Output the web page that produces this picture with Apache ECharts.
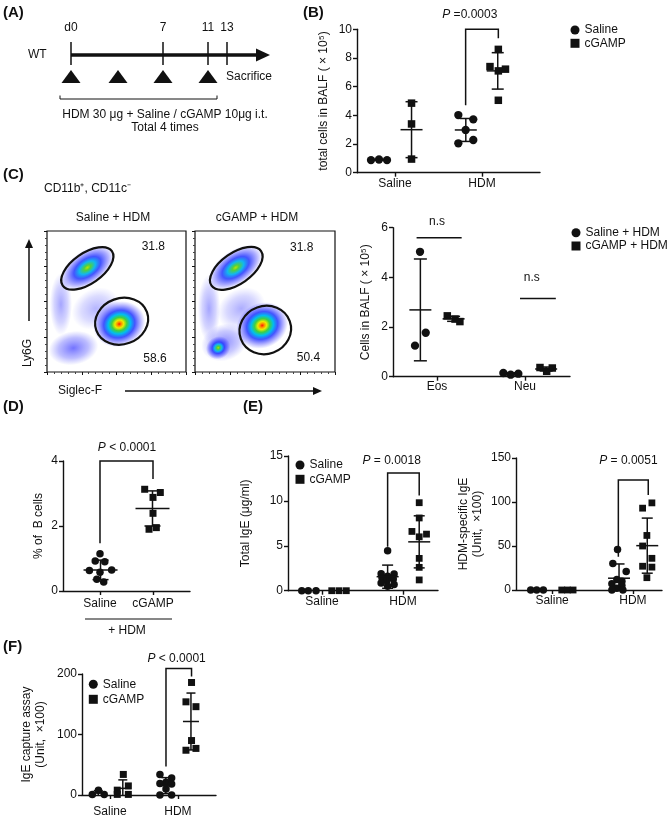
<!DOCTYPE html>
<html><head><meta charset="utf-8">
<script src="https://cdn.jsdelivr.net/npm/echarts@6/dist/echarts.min.js"></script>
<style>html,body{margin:0;padding:0;background:#fff}#c{width:669px;height:819px}</style>
</head><body><div id="c"></div>
<script>
const FONT = "'Liberation Sans', Arial, sans-serif";
const INK = '#111111';

// ---------- Panel B : total cells in BALF ----------
const B_cats = ['Saline', 'HDM'];
const B_salVals = [[0.88, 0.92, 0.88], [4.02, 3.72, 2.98, 2.05, 2.28]];
const B_salJit  = [[-0.276, -0.184, -0.092], [-0.272, -0.1, -0.188, -0.272, -0.1]];
const B_cgVals  = [[4.85, 3.4, 0.95], [8.6, 7.4, 7.22, 7.1, 5.05]];
const B_cgJit   = [[0.19, 0.19, 0.19], [0.188, 0.092, 0.27, 0.188, 0.188]];
const B_salMean = [0.9, 2.98], B_salSD = [0.03, 0.8];
const B_cgMean  = [3.0, 7.1],  B_cgSD  = [1.95, 1.27];
const B_bracket = [1.812, 4.7, 2.188, 9.37, 10];
const B_pText   = [1.86, 11.0, 'P =0.0003'];

// ---------- Panel C : Eos / Neu ----------
const C_cats = ['Eos', 'Neu'];
const C_salVals = [[5.03, 1.77, 1.25], [0.15, 0.08, 0.12]];
const C_salJit  = [[-0.193, -0.128, -0.25], [-0.246, -0.163, -0.076]];
const C_cgVals  = [[2.45, 2.32, 2.22], [0.37, 0.22, 0.35]];
const C_cgJit   = [[0.117, 0.205, 0.26], [0.17, 0.246, 0.31]];
const C_salMean = [2.69, 0.12], C_salSD = [2.05, 0.04];
const C_cgMean  = [2.33, 0.31], C_cgSD  = [0.1, 0.08];
const C_nsLines = [[0.768, 1.28, 5.6], [1.943, 2.35, 3.15]];
const C_nsText  = [[1.0, 6.24, 'n.s'], [2.076, 4.0, 'n.s']];

// ---------- Panel C : flow plots (cluster centre x, y, radius x, radius y, tilt deg, density peak) ----------
const F1_clusters = [[10, 48, 8, 22, 0, 0.22], [19, 17, 18, 12, 10, 0.34], [35, 45, 18, 14, 30, 0.18],
                     [29, 74, 22, 12, 35, 0.75], [52, 34, 19, 16, 20, 1.0]];
const F2_clusters = [[10, 45, 8, 24, 0, 0.22], [21, 21, 17, 13, 20, 0.28], [33, 45, 18, 14, 30, 0.2],
                     [16.6, 17.2, 9, 8, 30, 0.7], [29, 74, 22, 12, 35, 0.7], [48, 33, 19, 16, 25, 0.95]];
const F1_gates = [[29, 73.5, 21.6, 10.8, 35], [53.7, 36, 19.4, 16.3, 20]];
const F2_gates = [[29.5, 73.5, 21.6, 11, 35], [50.2, 29.8, 18.6, 17, 20]];
const F1_pct = [[76.5, 88.9, '31.8'], [77.7, 9.7, '58.6']];
const F2_pct = [[76.2, 88.2, '31.8'], [81, 10.1, '50.4']];

// ---------- Panel D : % of B cells ----------
const D_cats = ['Saline', 'cGAMP'];
const D_vals = [[1.15, 0.92, 0.9, 0.63, 0.58, 0.65, 0.36, 0.28], [3.13, 3.03, 2.88, 2.39, 1.9, 1.95]];
const D_jit  = [[0, -0.09, 0.09, -0.2, 0, 0.22, -0.06, 0.07], [-0.157, 0.138, 0, 0, -0.075, 0.063]];
const D_mean = [0.65, 2.54], D_sd = [0.3, 0.54];
const D_bracket = [1, 1.47, 2, 3.45, 4];
const D_pText = [1.51, 4.4, 'P < 0.0001'];

// ---------- Panel E left : Total IgE ----------
const E1_cats = ['Saline', 'HDM'];
const E1_salVals = [[0, 0, 0], [4.45, 1.9, 1.85, 1.6, 1.45, 1.3, 1.1, 0.85, 0.7, 0.5]];
const E1_salJit  = [[-0.25, -0.17, -0.074], [-0.19, -0.27, -0.11, -0.19, -0.26, -0.12, -0.2, -0.27, -0.11, -0.19]];
const E1_cgVals  = [[0, 0, 0], [9.8, 8.1, 6.6, 6.3, 6.0, 3.6, 2.6, 1.2]];
const E1_cgJit   = [[0.12, 0.21, 0.3], [0.2, 0.2, 0.11, 0.29, 0.2, 0.2, 0.2, 0.2]];
const E1_salMean = [0, 1.56], E1_salSD = [0, 1.29];
const E1_cgMean  = [0, 5.44], E1_cgSD  = [0, 2.9];
const E1_bracket = [1.81, 4.9, 2.2, 10.6, 13.1];
const E1_pText = [1.86, 14.5, 'P = 0.0018'];

// ---------- Panel E right : HDM-specific IgE ----------
const E2_cats = ['Saline', 'HDM'];
const E2_salVals = [[0, 0, 0], [46, 30, 21, 12, 10, 7, 5, 2, 0, 0]];
const E2_salJit  = [[-0.264, -0.19, -0.108], [-0.19, -0.248, -0.083, -0.198, -0.136, -0.26, -0.136, -0.198, -0.26, -0.124]];
const E2_cgVals  = [[0, 0, 0], [99, 93, 62, 50, 36, 27, 26, 14]];
const E2_cgJit   = [[0.12, 0.19, 0.26], [0.235, 0.12, 0.173, 0.12, 0.235, 0.12, 0.235, 0.173]];
const E2_salMean = [0, 13.4], E2_salSD = [0, 16.2];
const E2_cgMean  = [0, 50.4], E2_cgSD  = [0, 31.3];
const E2_bracket = [1.82, 37.7, 2.19, 108, 125];
const E2_pText = [1.945, 147, 'P = 0.0051'];

// ---------- Panel F : IgE capture assay ----------
const F_cats = ['Saline', 'HDM'];
const F_salVals = [[1, 8, 1], [34, 28, 21, 19, 18, 10, 0, 0]];
const F_salJit  = [[-0.26, -0.17, -0.085], [-0.265, -0.093, -0.176, -0.265, -0.093, -0.176, -0.265, -0.093]];
const F_cgVals  = [[34, 15, 8, 1, 1], [186, 154, 146, 90, 74, 77]];
const F_cgJit   = [[0.196, 0.27, 0.107, 0.107, 0.27], [0.2, 0.118, 0.265, 0.2, 0.118, 0.265]];
const F_salMean = [3.3, 15.5], F_salSD = [4, 13.2];
const F_cgMean  = [11, 121.5], F_cgSD  = [14, 47];
const F_bracket = [1.824, 47, 2.2, 196, 209];
const F_pText = [1.98, 226, 'P < 0.0001'];

// =====================================================================
const grids = [], xAxes = [], yAxes = [], series = [];

function pts(vals, jit) {
  const out = [];
  vals.forEach((arr, g) => arr.forEach((v, i) => out.push([g + 1 + jit[g][i], v])));
  return out;
}
function center(j) { return (Math.min(...j) + Math.max(...j)) / 2; }

function errSeries(k, jit, mean, sd, hw, cw) {
  const data = mean.map((m, i) => [1 + i + center(jit[i]), m, sd[i]]);
  return {
    type: 'custom', xAxisIndex: k, yAxisIndex: k, z: 4, silent: true, data,
    renderItem: (p, api) => {
      const x = api.value(0), m = api.value(1), s = api.value(2);
      if (m === 0 && s === 0) return null;
      const ymin = yAxes[k].min;
      const pm = api.coord([x, m]), pt = api.coord([x, m + s]);
      const low = m - s < ymin;
      const pb = api.coord([x, Math.max(m - s, ymin)]);
      const ls = { stroke: INK, lineWidth: 1.5 };
      const ch = [
        { type: 'line', shape: { x1: pm[0], y1: pt[1], x2: pm[0], y2: pb[1] }, style: ls },
        { type: 'line', shape: { x1: pm[0] - hw, y1: pm[1], x2: pm[0] + hw, y2: pm[1] }, style: ls },
        { type: 'line', shape: { x1: pm[0] - cw, y1: pt[1], x2: pm[0] + cw, y2: pt[1] }, style: ls }
      ];
      if (!low) ch.push({ type: 'line', shape: { x1: pm[0] - cw, y1: pb[1], x2: pm[0] + cw, y2: pb[1] }, style: ls });
      return { type: 'group', children: ch };
    }
  };
}

function bracketSeries(k, b) {
  return {
    type: 'custom', xAxisIndex: k, yAxisIndex: k, z: 2, silent: true, data: [b],
    renderItem: (p, api) => {
      const a = api.coord([api.value(0), api.value(1)]);
      const t1 = api.coord([api.value(0), api.value(4)]);
      const t2 = api.coord([api.value(2), api.value(4)]);
      const e = api.coord([api.value(2), api.value(3)]);
      return { type: 'polyline', shape: { points: [a, t1, t2, e] }, style: { stroke: INK, lineWidth: 1.5, fill: null } };
    }
  };
}

function hLineSeries(k, lines) {
  return {
    type: 'custom', xAxisIndex: k, yAxisIndex: k, z: 2, silent: true, data: lines,
    renderItem: (p, api) => {
      const a = api.coord([api.value(0), api.value(2)]), b = api.coord([api.value(1), api.value(2)]);
      return { type: 'line', shape: { x1: a[0], y1: a[1], x2: b[0], y2: b[1] }, style: { stroke: INK, lineWidth: 1.5 } };
    }
  };
}

function textSeries(k, items, fs) {
  return {
    type: 'custom', xAxisIndex: k, yAxisIndex: k, z: 6, silent: true,
    data: items.map((it, i) => [it[0], it[1], i]),
    renderItem: (p, api) => {
      const it = items[api.value(2)];
      const c = api.coord([api.value(0), api.value(1)]);
      let txt = it[2];
      if (txt.charAt(0) === 'P') txt = '{i|P}' + txt.slice(1);
      return {
        type: 'text', x: c[0], y: c[1],
        style: {
          text: txt, fontSize: fs || 12, fontFamily: FONT, fill: INK, align: 'center', verticalAlign: 'middle',
          rich: { i: { fontStyle: 'italic', fontSize: fs || 12, fontFamily: FONT, fill: INK } }
        }
      };
    }
  };
}

function addPanel(c) {
  const k = grids.length;
  grids.push({ left: c.rect[0], top: c.rect[1], width: c.rect[2], height: c.rect[3] });
  xAxes.push({
    type: 'value', gridIndex: k, min: c.xmin, max: c.xmax,
    axisLine: { show: true, onZero: false, lineStyle: { color: INK, width: 1.4 } },
    axisTick: { show: true, customValues: [1, 2], length: 4, lineStyle: { color: INK, width: 1.4 } },
    axisLabel: { show: true, customValues: [1, 2], formatter: v => c.cats[Math.round(v) - 1],
      fontSize: 12, color: INK, margin: c.xm, fontFamily: FONT },
    splitLine: { show: false }
  });
  yAxes.push({
    type: 'value', gridIndex: k, min: c.ymin, max: c.ymax, interval: c.yint,
    name: c.yname, nameLocation: 'middle', nameRotate: 90, nameGap: c.ygap,
    nameTextStyle: { fontSize: 12, color: INK, fontFamily: FONT, lineHeight: 14 },
    axisLine: { show: true, lineStyle: { color: INK, width: 1.4 } },
    axisTick: { show: true, length: 4, lineStyle: { color: INK, width: 1.4 } },
    axisLabel: { fontSize: 12, color: INK, margin: 5, fontFamily: FONT },
    splitLine: { show: false }
  });
  if (c.bracket) series.push(bracketSeries(k, c.bracket));
  c.groups.forEach((g, i) => {
    series.push({
      type: 'scatter', name: g.name, xAxisIndex: k, yAxisIndex: k, clip: false,
      symbol: i ? 'rect' : 'circle', symbolSize: c.sym[i], itemStyle: { color: INK, opacity: 1 }, z: 3,
      silent: true, data: pts(g.vals, g.jit)
    });
    series.push(errSeries(k, g.jit, g.mean, g.sd, c.hw, c.cw));
  });
  if (c.p) series.push(textSeries(k, [c.p]));
  return k;
}

function densityStops(p) {
  if (p >= 0.9) return [[0, '#ff1a00'], [0.08, '#ff8c00'], [0.17, '#ecec00'], [0.29, '#40d040'], [0.43, '#00bef0'],
                        [0.6, 'rgba(35,55,255,0.85)'], [0.8, 'rgba(60,60,255,0.42)'], [1, 'rgba(80,80,255,0)']];
  if (p >= 0.6) return [[0, '#b8e400'], [0.12, '#50d040'], [0.3, '#10b8f0'], [0.5, 'rgba(35,55,255,0.85)'],
                        [0.78, 'rgba(60,60,255,0.4)'], [1, 'rgba(80,80,255,0)']];
  return [[0, 'rgba(40,40,255,' + (p * 1.9).toFixed(2) + ')'], [0.6, 'rgba(60,60,255,' + (p * 1.0).toFixed(2) + ')'], [1, 'rgba(80,80,255,0)']];
}

function addFlow(rect, clusters, gates, pct) {
  const k = grids.length;
  grids.push({ left: rect[0], top: rect[1], width: rect[2], height: rect[3], show: true, borderColor: INK, borderWidth: 1.2, backgroundColor: '#fff' });
  const ax = () => ({
    type: 'value', gridIndex: k, min: 0, max: 100, interval: 25,
    axisLine: { show: false }, axisLabel: { show: false }, splitLine: { show: false },
    axisTick: { show: true, length: 3, lineStyle: { color: INK } },
    minorTick: { show: true, splitNumber: 5, length: 2, lineStyle: { color: '#444' } }
  });
  xAxes.push(ax()); yAxes.push(ax());
  series.push({
    type: 'custom', xAxisIndex: k, yAxisIndex: k, z: 2, silent: true, clip: true,
    data: clusters.map((c, i) => [c[0], c[1], c[2], c[3], c[4], i]),
    renderItem: (p, api) => {
      const cl = clusters[api.value(5)];
      const c = api.coord([api.value(0), api.value(1)]);
      const s = api.size([api.value(2), api.value(3)]);
      return {
        type: 'circle', x: c[0], y: c[1], rotation: api.value(4) * Math.PI / 180,
        scaleX: s[0] / s[1], scaleY: 1, shape: { cx: 0, cy: 0, r: s[1] },
        style: { fill: { type: 'radial', x: 0.5, y: 0.5, r: 0.5, colorStops: densityStops(cl[5]).map(d => ({ offset: d[0], color: d[1] })) } }
      };
    }
  });
  series.push({
    type: 'custom', xAxisIndex: k, yAxisIndex: k, z: 4, silent: true, data: gates,
    renderItem: (p, api) => {
      const c = api.coord([api.value(0), api.value(1)]);
      const s = api.size([api.value(2), api.value(3)]);
      return {
        type: 'ellipse', x: c[0], y: c[1], rotation: api.value(4) * Math.PI / 180,
        shape: { cx: 0, cy: 0, rx: s[0], ry: s[1] }, style: { stroke: '#111', lineWidth: 2.2, fill: null }
      };
    }
  });
  series.push(textSeries(k, pct, 12));
  return k;
}

// ---- build panels ----
addPanel({ rect: [357, 29.3, 183, 143.4], xmin: 0.563, xmax: 2.667, cats: B_cats, xm: 5,
  ymin: 0, ymax: 10, yint: 2, yname: 'total cells in BALF ( × 10⁵)', ygap: 26,
  groups: [{ name: 'Saline', vals: B_salVals, jit: B_salJit, mean: B_salMean, sd: B_salSD },
           { name: 'cGAMP', vals: B_cgVals, jit: B_cgJit, mean: B_cgMean, sd: B_cgSD }],
  sym: [8.3, 7.5], hw: 11, cw: 6, bracket: B_bracket, p: B_pText });

const kC = addPanel({ rect: [393, 227.7, 177, 149], xmin: 0.5, xmax: 2.511, cats: C_cats, xm: 4,
  ymin: 0, ymax: 6, yint: 2, yname: 'Cells in BALF ( × 10⁵)', ygap: 20,
  groups: [{ name: 'Saline + HDM', vals: C_salVals, jit: C_salJit, mean: C_salMean, sd: C_salSD },
           { name: 'cGAMP + HDM', vals: C_cgVals, jit: C_cgJit, mean: C_cgMean, sd: C_cgSD }],
  sym: [8.3, 7.5], hw: 11, cw: 6.5 });
series.push(hLineSeries(kC, C_nsLines));
series.push(textSeries(kC, C_nsText));

addPanel({ rect: [63, 461, 127, 130], xmin: 0.302, xmax: 2.698, cats: D_cats, xm: 7,
  ymin: 0, ymax: 4, yint: 2, yname: '% of  B cells', ygap: 17,
  groups: [{ name: 'Saline', vals: [D_vals[0], []], jit: [D_jit[0], [0]], mean: [D_mean[0], 0], sd: [D_sd[0], 0] },
           { name: 'cGAMP', vals: [[], D_vals[1]], jit: [[0], D_jit[1]], mean: [0, D_mean[1]], sd: [0, D_sd[1]] }],
  sym: [7.5, 7], hw: 17, cw: 8, bracket: D_bracket, p: D_pText });

addPanel({ rect: [288, 456, 150, 134.7], xmin: 0.58, xmax: 2.432, cats: E1_cats, xm: 5,
  ymin: 0, ymax: 15, yint: 5, yname: 'Total IgE (μg/ml)', ygap: 35,
  groups: [{ name: 'Saline', vals: E1_salVals, jit: E1_salJit, mean: E1_salMean, sd: E1_salSD },
           { name: 'cGAMP', vals: E1_cgVals, jit: E1_cgJit, mean: E1_cgMean, sd: E1_cgSD }],
  sym: [7.5, 6.8], hw: 11, cw: 5.5, bracket: E1_bracket, p: E1_pText });

addPanel({ rect: [516, 458, 146, 132], xmin: 0.554, xmax: 2.36, cats: E2_cats, xm: 5,
  ymin: 0, ymax: 150, yint: 50, yname: 'HDM-specific IgE\n(Unit,  ×100)', ygap: 31,
  groups: [{ name: 'Saline', vals: E2_salVals, jit: E2_salJit, mean: E2_salMean, sd: E2_salSD },
           { name: 'cGAMP', vals: E2_cgVals, jit: E2_cgJit, mean: E2_cgMean, sd: E2_cgSD }],
  sym: [7.5, 6.8], hw: 11, cw: 5.5, bracket: E2_bracket, p: E2_pText });

addPanel({ rect: [82, 674, 134, 121], xmin: 0.588, xmax: 2.56, cats: F_cats, xm: 11,
  ymin: 0, ymax: 200, yint: 100, yname: 'IgE capture assay\n(Unit,  ×100)', ygap: 34,
  groups: [{ name: 'Saline', vals: F_salVals, jit: F_salJit, mean: F_salMean, sd: F_salSD },
           { name: 'cGAMP', vals: F_cgVals, jit: F_cgJit, mean: F_cgMean, sd: F_cgSD }],
  sym: [7.5, 7], hw: 8, cw: 4.5, bracket: F_bracket, p: F_pText });

addFlow([47, 231, 139, 141], F1_clusters, F1_gates, F1_pct);
addFlow([195, 231, 140, 141], F2_clusters, F2_gates, F2_pct);

// ---- static annotation graphics ----
const graphics = [];
function T(x, y, text, o) {
  graphics.push({ type: 'text', x, y, silent: true, z: 10,
    style: Object.assign({ text, fontSize: 12, fontFamily: FONT, fill: INK, align: 'left', verticalAlign: 'middle',
      textAlign: (o && o.align) || 'left', textVerticalAlign: 'middle' }, o || {}) });
}
function L(x1, y1, x2, y2, w) { graphics.push({ type: 'line', silent: true, shape: { x1, y1, x2, y2 }, style: { stroke: INK, lineWidth: w || 1.3 } }); }
function G(points) { graphics.push({ type: 'polygon', silent: true, shape: { points }, style: { fill: INK } }); }

const bold = { fontSize: 15, fontWeight: 'bold' };
T(3, 13, '(A)', bold); T(303, 13, '(B)', bold); T(3, 175, '(C)', bold);
T(3, 407, '(D)', bold); T(243, 407, '(E)', bold); T(3, 647, '(F)', bold);

// Panel A schematic
T(28, 55, 'WT');
L(71, 55, 259, 55, 3.5); G([[256, 48.5], [270, 55], [256, 61.5]]);
[[71, 'd0'], [163, '7'], [208, '11'], [227, '13']].forEach(t => { L(t[0], 42, t[0], 65, 1.5); T(t[0], 28, t[1], { align: 'center' }); });
[71, 118, 163, 208].forEach(x => G([[x - 9.5, 83], [x, 70], [x + 9.5, 83]]));
T(226, 77, 'Sacrifice');
graphics.push({ type: 'polyline', silent: true, shape: { points: [[60, 95.5], [60, 99], [217, 99], [217, 95.5]] }, style: { stroke: INK, lineWidth: 1, fill: null } });
T(165, 115, 'HDM 30 μg + Saline / cGAMP 10μg i.t.', { align: 'center' });
T(165, 128, 'Total 4 times', { align: 'center' });

// Panel C flow annotations
T(44, 189, 'CD11b⁺, CD11c⁻', { fontSize: 12 });
T(113, 218, 'Saline + HDM', { align: 'center' });
T(257, 218, 'cGAMP + HDM', { align: 'center' });
L(29, 321, 29, 246, 1.5); G([[25, 248], [29, 239], [33, 248]]);
graphics.push({ type: 'text', x: 28, y: 353, rotation: Math.PI / 2, silent: true,
  style: { text: 'Ly6G', fontSize: 12, fontFamily: FONT, fill: INK, align: 'center', verticalAlign: 'middle', textAlign: 'center', textVerticalAlign: 'middle' } });
T(80, 391, 'Siglec-F', { align: 'center' });
L(125, 391, 315, 391, 1.5); G([[313, 387], [322, 391], [313, 395]]);

// Panel D "+ HDM" bar
L(85, 619, 172, 619, 1.2);
T(127, 631, '+ HDM', { align: 'center' });

// ---- legends ----
const legBase = { orient: 'vertical', selectedMode: false, padding: 0, itemWidth: 9, itemHeight: 9,
  textStyle: { fontSize: 12, color: INK, fontFamily: FONT, lineHeight: 13 }, itemStyle: { color: INK, opacity: 1 } };
const legends = [
  Object.assign({}, legBase, { left: 570.5, top: 23.5, itemGap: 0.3, data: [{ name: 'Saline', icon: 'circle' }, { name: 'cGAMP', icon: 'rect' }] }),
  Object.assign({}, legBase, { left: 571.5, top: 226.2, itemGap: 0.3, data: [{ name: 'Saline + HDM', icon: 'circle' }, { name: 'cGAMP + HDM', icon: 'rect' }] }),
  Object.assign({}, legBase, { left: 295.5, top: 458.5, itemGap: 1.3, data: [{ name: 'Saline', icon: 'circle' }, { name: 'cGAMP', icon: 'rect' }] }),
  Object.assign({}, legBase, { left: 88.8, top: 677.8, itemGap: 2, data: [{ name: 'Saline', icon: 'circle' }, { name: 'cGAMP', icon: 'rect' }] })
];

const chart = echarts.init(document.getElementById('c'), null, { renderer: 'canvas' });
chart.setOption({
  animation: false,
  backgroundColor: '#fff',
  textStyle: { fontFamily: FONT },
  grid: grids, xAxis: xAxes, yAxis: yAxes,
  legend: legends,
  graphic: { elements: graphics },
  series
});
</script></body></html>
